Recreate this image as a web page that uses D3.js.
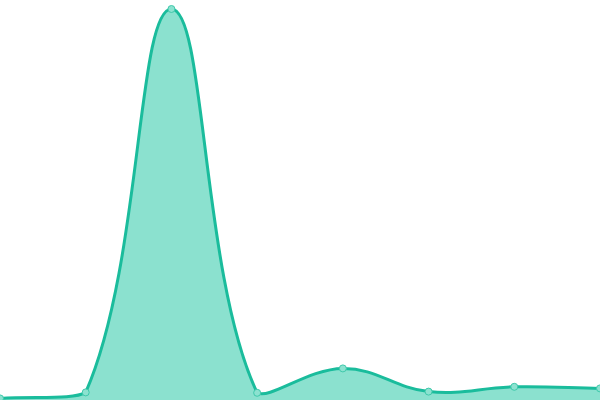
<!DOCTYPE html>
<html>
<head>
<meta charset="utf-8">
<script src="https://cdn.jsdelivr.net/npm/d3@7"></script>
<style>
  html, body { margin: 0; padding: 0; background: #fff; }
  svg { display: block; }
</style>
</head>
<body>
<svg id="chart"></svg>
<script>
// series (8 evenly spaced samples)
const categories = ['0', '1', '2', '3', '4', '5', '6', '7'];
const values = [0.4, 1.9, 97.75, 1.8, 7.9, 2.1, 3.3, 2.9];
const yDomain = [0, 100];

const width = 600;
const height = 400;
const lineColour = '#1abc9c';
const fillColour = 'rgba(24, 196, 160, 0.5)';
const tension = 0.4;

// spline with distance-weighted control points, capped to the plot area
function cappedSpline(bounds) {
  function Spline(context) {
    this._context = context;
  }
  Spline.prototype = {
    areaStart() { this._line = 0; },
    areaEnd() { this._line = NaN; },
    lineStart() { this._pts = []; },
    point(x, y) { this._pts.push({ x: +x, y: +y }); },
    lineEnd() {
      const p = this._pts;
      const c = this._context;
      const n = p.length;
      if (this._line) c.lineTo(p[0].x, p[0].y);
      else c.moveTo(p[0].x, p[0].y);

      const cap = (v, lo, hi) => Math.max(lo, Math.min(hi, v));
      for (let i = 0; i < n; i++) {
        const prev = p[i - 1] || p[i];
        const cur = p[i];
        const next = p[i + 1] || p[i];
        const d01 = Math.hypot(cur.x - prev.x, cur.y - prev.y);
        const d12 = Math.hypot(next.x - cur.x, next.y - cur.y);
        let s01 = d01 / (d01 + d12);
        let s12 = d12 / (d01 + d12);
        if (isNaN(s01)) s01 = 0;
        if (isNaN(s12)) s12 = 0;
        const fa = tension * s01;
        const fb = tension * s12;
        cur.cp1 = {
          x: cap(cur.x - fa * (next.x - prev.x), bounds.left, bounds.right),
          y: cap(cur.y - fa * (next.y - prev.y), bounds.top, bounds.bottom),
        };
        cur.cp2 = {
          x: cap(cur.x + fb * (next.x - prev.x), bounds.left, bounds.right),
          y: cap(cur.y + fb * (next.y - prev.y), bounds.top, bounds.bottom),
        };
      }
      for (let i = 1; i < n; i++) {
        const a = p[i - 1];
        const b = p[i];
        c.bezierCurveTo(a.cp2.x, a.cp2.y, b.cp1.x, b.cp1.y, b.x, b.y);
      }

      if (this._line || (this._line !== 0 && n === 1)) c.closePath();
      this._line = 1 - this._line;
    },
  };
  return (context) => new Spline(context);
}

const svg = d3.select('#chart').attr('width', width).attr('height', height);

const xScale = d3.scalePoint().domain(categories).range([0, width]);
const yScale = d3.scaleLinear().domain(yDomain).range([height, 0]);

const curve = cappedSpline({ left: 0, right: width, top: 0, bottom: height });

const area = d3
  .area()
  .x((d, i) => xScale(categories[i]))
  .y0(yScale(yDomain[0]))
  .y1((d) => yScale(d))
  .curve(curve);

const line = d3
  .line()
  .x((d, i) => xScale(categories[i]))
  .y((d) => yScale(d))
  .curve(curve);

svg.append('path')
  .datum(values)
  .attr('d', area)
  .attr('fill', fillColour)
  .attr('stroke', 'none');

svg.append('path')
  .datum(values)
  .attr('d', line)
  .attr('fill', 'none')
  .attr('stroke', lineColour)
  .attr('stroke-width', 3);

svg.append('g')
  .selectAll('circle')
  .data(values)
  .join('circle')
  .attr('cx', (d, i) => xScale(categories[i]))
  .attr('cy', (d) => yScale(d))
  .attr('r', 3.5)
  .attr('fill', 'rgba(140, 226, 208, 1)')
  .attr('stroke', '#3fc9ab')
  .attr('stroke-width', 1);
</script>
</body>
</html>
